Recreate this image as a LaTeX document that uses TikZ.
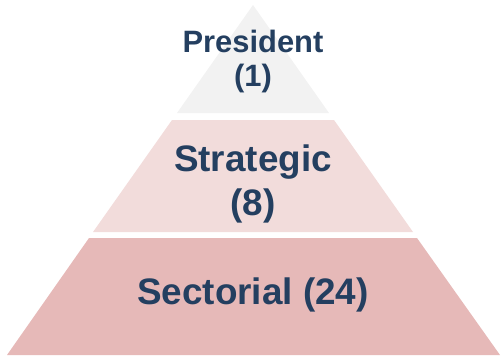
\documentclass[tikz,border=0pt]{standalone}
\usepackage{fontspec}
\setmainfont{Liberation Sans}
\definecolor{tierA}{HTML}{F2F2F2}
\definecolor{tierB}{HTML}{F2DCDB}
\definecolor{tierC}{HTML}{E6B9B8}
\definecolor{navy}{HTML}{243F60}
\tikzset{lbl/.style={text=navy, align=center, inner sep=0pt, font=\bfseries}}
\begin{document}
\begin{tikzpicture}[x=1bp,y=-1bp]
\useasboundingbox (0,0) rectangle (501,358);
\fill[tierA] (253,5) -- (329,113) -- (177,113) -- cycle;
\fill[tierB] (172,120) -- (334,120) -- (413,232) -- (93,232) -- cycle;
\fill[tierC] (89,238) -- (417,238) -- (500,355) -- (7,355) -- cycle;
\node[lbl, font=\bfseries\fontsize{31}{34}\selectfont] (pres) at (253,61.6) {President\\(1)};
\node[lbl, font=\bfseries\fontsize{37}{44}\selectfont] (strat) at (253,183.6) {Strategic\\(8)};
\node[lbl, font=\bfseries\fontsize{37}{37}\selectfont] (sect) at (253,294.5) {Sectorial (24)};
\end{tikzpicture}
\end{document}
